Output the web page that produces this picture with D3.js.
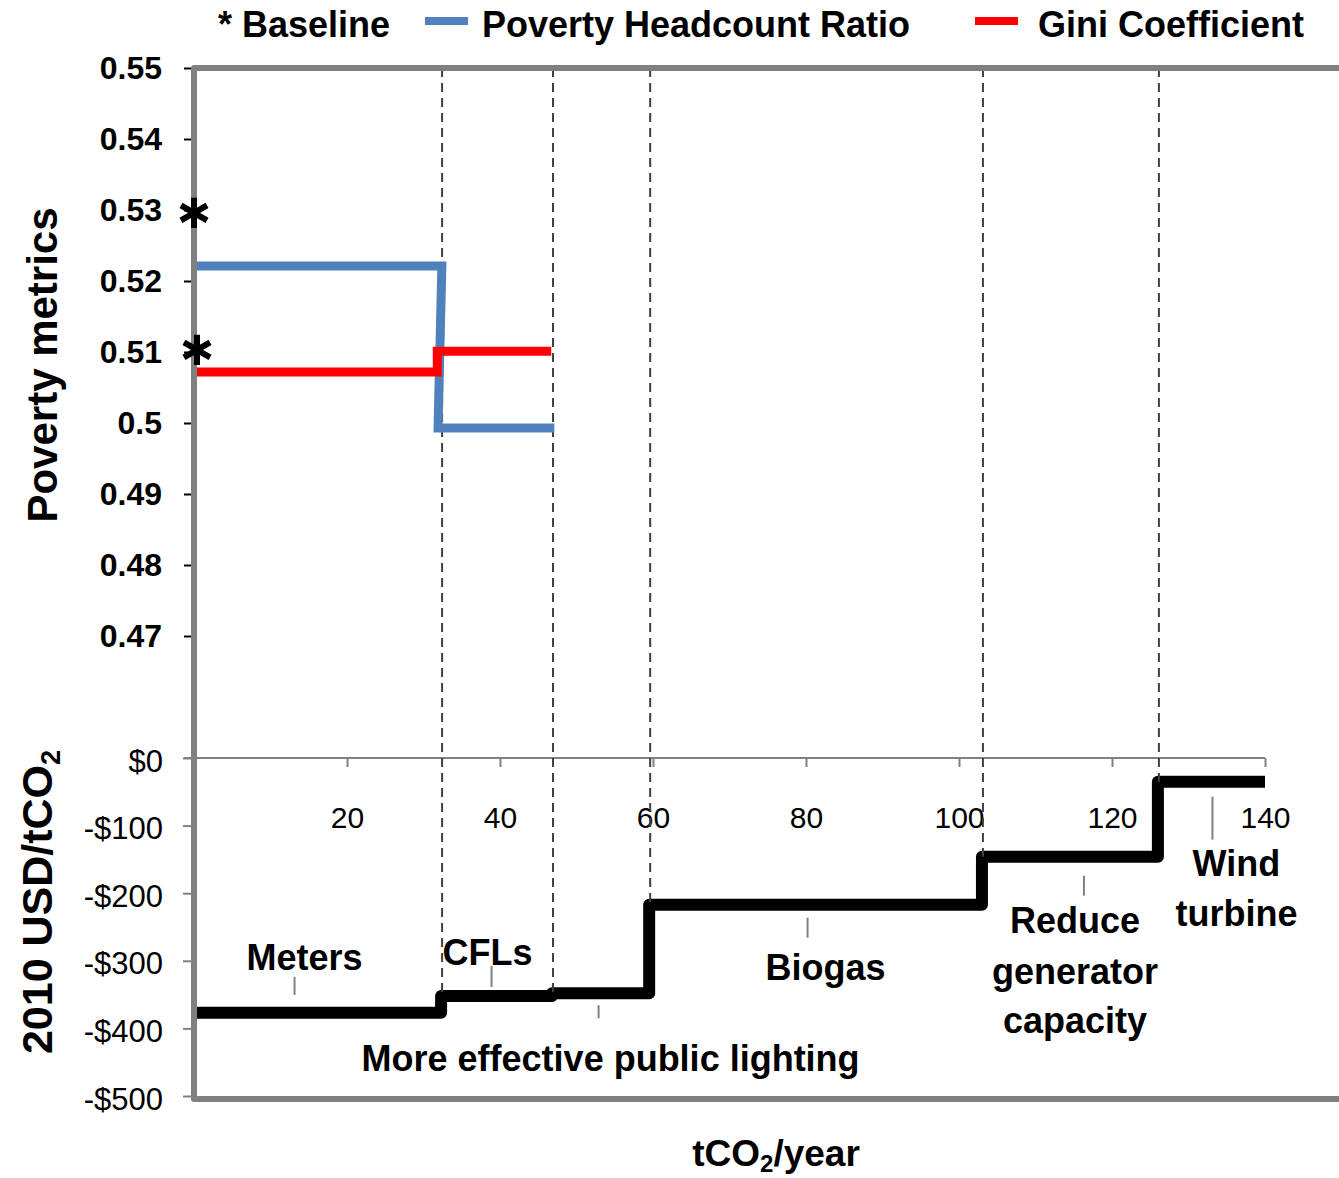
<!DOCTYPE html>
<html>
<head>
<meta charset="utf-8">
<script src="https://cdn.jsdelivr.net/npm/d3@7"></script>
<style>
  html, body { margin: 0; padding: 0; background: #fff; }
  svg { display: block; }
  text { font-family: "Liberation Sans", Arial, sans-serif; }
</style>
</head>
<body>
<svg id="chart" width="1339" height="1178"></svg>
<script>
// ---------------- DATA ----------------
const categories = ["Meters", "CFLs", "More effective public lighting", "Biogas", "Reduce generator capacity", "Wind turbine"];
const abatement = [32.3, 14.5, 12.7, 43.5, 23.0, 14.0];          // tCO2/year per measure (bar width)
const cost = [-377, -352, -348, -217, -146, -35];                 // 2010 USD/tCO2

const headcountX = [0, 32.4, 31.9, 47.1];
const headcountY = [0.5221, 0.5221, 0.4993, 0.4993];
const giniX = [0, 31.8, 31.8, 46.7];
const giniY = [0.5072, 0.5072, 0.5101, 0.5101];
const baselineValues = [0.5296, 0.5103];                            // * baseline markers

const topTicks = [0.47, 0.48, 0.49, 0.50, 0.51, 0.52, 0.53, 0.54, 0.55];
const costTicks = [0, -100, -200, -300, -400, -500];
const xTicks = [20, 40, 60, 80, 100, 120, 140];

const legendLabels = ["* Baseline", "Poverty Headcount Ratio", "Gini Coefficient"];
const yTitleTop = "Poverty metrics";

// ---------------- LAYOUT ----------------
const svg = d3.select("#chart");
const X0 = 194, X1 = 1265;
const x = d3.scaleLinear().domain([0, 140]).range([X0, X1]);
const yTop = d3.scaleLinear().domain([0.45, 0.55]).range([778, 68]);
const yBot = d3.scaleLinear().domain([-500, 0]).range([1096, 758]);

const grey = "#808080";
const blue = "#4F81BD";
const red = "#FF0000";

// cumulative boundaries
const bounds = [0];
abatement.forEach((a, i) => bounds.push(bounds[i] + a));

// ---------- lower axis: $0 line, ticks ----------
svg.append("line")
  .attr("x1", 184).attr("x2", x(140))
  .attr("y1", yBot(0)).attr("y2", yBot(0))
  .attr("stroke", grey).attr("stroke-width", 2);

const xAxis = d3.axisBottom(x).tickValues(xTicks).tickSize(9).tickPadding(40).tickFormat(d3.format("d"));
const gx = svg.append("g").attr("transform", `translate(0,${yBot(0)})`).call(xAxis);
gx.select(".domain").remove();
gx.selectAll(".tick line").attr("stroke", grey).attr("stroke-width", 2);
gx.selectAll(".tick text").attr("font-size", 30).attr("fill", "#000");

const yBotAxis = d3.axisLeft(yBot).tickValues(costTicks).tickSize(8).tickPadding(20)
  .tickFormat(d => d === 0 ? "$0" : "-$" + Math.abs(d));
const gyb = svg.append("g").attr("transform", `translate(${X0 - 3},0)`).call(yBotAxis);
gyb.select(".domain").remove();
gyb.selectAll(".tick line").attr("stroke", grey).attr("stroke-width", 2);
gyb.selectAll(".tick text").attr("font-size", 31).attr("fill", "#000").attr("dy", "0.42em");

// ---------- upper axis ----------
const yTopAxis = d3.axisLeft(yTop).tickValues(topTicks).tickSize(7).tickPadding(22)
  .tickFormat(d => Math.abs(d - 0.5) < 1e-9 ? "0.5" : d3.format(".2f")(d));
const gyt = svg.append("g").attr("transform", `translate(${X0 - 3},0)`).call(yTopAxis);
gyt.select(".domain").remove();
gyt.selectAll(".tick line").attr("stroke", "#000").attr("stroke-width", 2);
gyt.selectAll(".tick text").attr("font-size", 32).attr("font-weight", "bold").attr("fill", "#000");

// ---------- cost step line ----------
const stepPts = [];
cost.forEach((c, i) => { stepPts.push([bounds[i], c]); stepPts.push([bounds[i + 1], c]); });
svg.append("path")
  .datum(stepPts)
  .attr("d", d3.line().x(d => x(d[0])).y(d => yBot(d[1])))
  .attr("fill", "none").attr("stroke", "#000").attr("stroke-width", 12)
  .attr("stroke-linejoin", "round").attr("stroke-linecap", "butt");

// ---------- dashed separators ----------
const sepIdx = d3.range(1, bounds.length - 1);
svg.selectAll("line.sep").data(sepIdx).join("line").attr("class", "sep")
  .attr("x1", i => x(bounds[i]) + 1).attr("x2", i => x(bounds[i]) + 1)
  .attr("y1", yTop(0.55)).attr("y2", i => yBot(Math.max(cost[i - 1], cost[i])))
  .attr("stroke", "#404040").attr("stroke-width", 2).attr("stroke-dasharray", "9,6");

// ---------- poverty lines ----------
const lineGen = d3.line().x(d => x(d[0])).y(d => yTop(d[1]));
svg.append("path").datum(headcountX.map((v, i) => [v, headcountY[i]]))
  .attr("d", lineGen).attr("fill", "none").attr("stroke", blue).attr("stroke-width", 9)
  .attr("stroke-linejoin", "miter");
svg.append("path").datum(giniX.map((v, i) => [v, giniY[i]]))
  .attr("d", lineGen).attr("fill", "none").attr("stroke", red).attr("stroke-width", 9)
  .attr("stroke-linejoin", "miter");

// ---------- frame ----------
svg.append("path")
  .attr("d", `M1345,${yTop(0.55)} L${X0},${yTop(0.55)} L${X0},1099 L1345,1099`)
  .attr("fill", "none").attr("stroke", grey).attr("stroke-width", 6).attr("stroke-linejoin", "round");

// ---------- baseline asterisks ----------
const star = d3.symbol().type(d3.symbolAsterisk).size(640);
svg.selectAll("path.star").data(baselineValues).join("path").attr("class", "star")
  .attr("d", star)
  .attr("transform", (d, i) => `translate(${x(0) + i * 3},${yTop(d)})`)
  .attr("fill", "none").attr("stroke", "#000").attr("stroke-width", 6);

// ---------- category labels with leader lines ----------
// layout: offsets (px) from segment centre / step y
const labelLayout = [
  { ldx: -23, l1: -36, l2: -18, tdx: -13, ty: [-43] },
  { ldx: -5,  l1: -30, l2: -9,  tdx: -9,  ty: [-31] },
  { ldx: -2,  l1: 12,  l2: 25,  tdx: 10,  ty: [78] },
  { ldx: -8,  l1: 13,  l2: 33,  tdx: 10,  ty: [75] },
  { ldx: 14,  l1: 19,  l2: 39,  tdx: 5,   ty: [76, 127, 176] },
  { ldx: 1,   l1: 15,  l2: 58,  tdx: 25,  ty: [94, 144] }
];
const labelLines = [["Meters"], ["CFLs"], ["More effective public lighting"], ["Biogas"], ["Reduce", "generator", "capacity"], ["Wind", "turbine"]];

categories.forEach((cat, i) => {
  const mid = x((bounds[i] + bounds[i + 1]) / 2);
  const yl = yBot(cost[i]);
  const L = labelLayout[i];
  svg.append("line")
    .attr("x1", mid + L.ldx).attr("x2", mid + L.ldx)
    .attr("y1", yl + L.l1).attr("y2", yl + L.l2)
    .attr("stroke", grey).attr("stroke-width", 2);
  labelLines[i].forEach((t, j) => {
    svg.append("text")
      .attr("x", mid + L.tdx).attr("y", yl + L.ty[j])
      .attr("text-anchor", "middle").attr("font-size", 36).attr("font-weight", "bold")
      .attr("fill", "#000").text(t);
  });
});

// ---------- legend ----------
svg.append("text").attr("x", 218).attr("y", 37).attr("font-size", 36).attr("font-weight", "bold").text(legendLabels[0]);
svg.append("rect").attr("x", 425).attr("y", 17).attr("width", 43).attr("height", 8).attr("fill", blue);
svg.append("text").attr("x", 482).attr("y", 37).attr("font-size", 36).attr("font-weight", "bold").text(legendLabels[1]);
svg.append("rect").attr("x", 975).attr("y", 17).attr("width", 43).attr("height", 8).attr("fill", red);
svg.append("text").attr("x", 1038).attr("y", 37).attr("font-size", 36).attr("font-weight", "bold").text(legendLabels[2]);

// ---------- axis titles ----------
svg.append("text")
  .attr("transform", `translate(57,365) rotate(-90)`)
  .attr("text-anchor", "middle").attr("font-size", 42).attr("font-weight", "bold")
  .text(yTitleTop);

const t2 = svg.append("text")
  .attr("transform", `translate(52,902) rotate(-90)`)
  .attr("text-anchor", "middle").attr("font-size", 43).attr("font-weight", "bold");
t2.append("tspan").text("2010 USD/tCO");
t2.append("tspan").attr("font-size", 27).attr("dy", 8).text("2");

const t3 = svg.append("text")
  .attr("x", 776).attr("y", 1166)
  .attr("text-anchor", "middle").attr("font-size", 37).attr("font-weight", "bold");
t3.append("tspan").text("tCO");
t3.append("tspan").attr("font-size", 24).attr("dy", 6).text("2");
t3.append("tspan").attr("dy", -6).text("/year");
</script>
</body>
</html>
